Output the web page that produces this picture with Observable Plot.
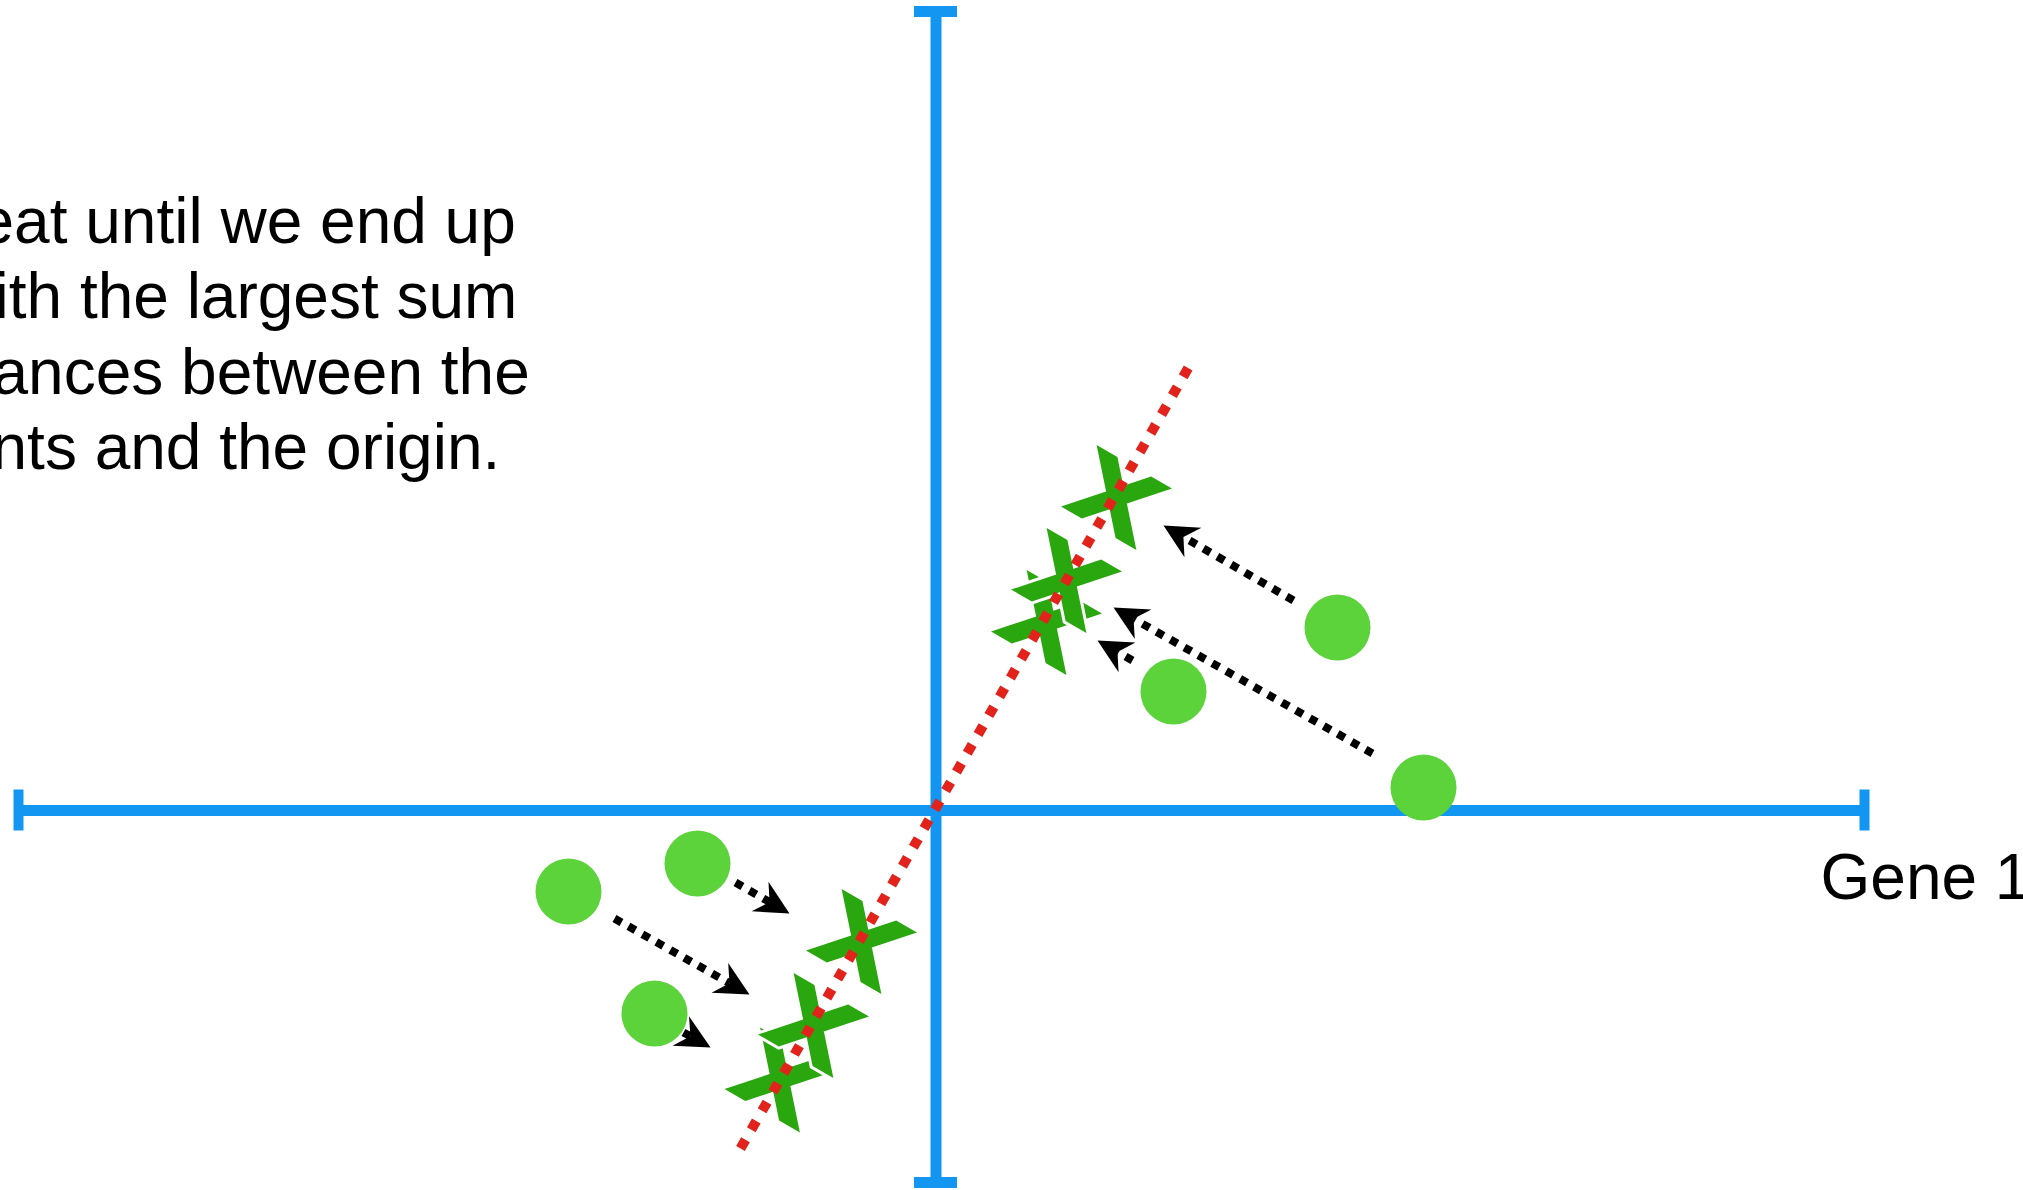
<!DOCTYPE html>
<html>
<head>
<meta charset="utf-8">
<script src="https://cdn.jsdelivr.net/npm/d3@7"></script>
<script src="https://cdn.jsdelivr.net/npm/@observablehq/plot@0.6"></script>
<style>
  html, body { margin: 0; padding: 0; background: #fff; overflow: hidden; }
  #chart svg { display: block; }
</style>
</head>
<body>
<div id="chart"></div>
<script>
// ---- data (Gene 1 / Gene 2 units, origin at axis crossing) ----
const noteLines = ["eat until we end up", "ith the largest sum", "ances between the", "nts and the origin."];
const axisLabel = "Gene 1";
const xAxisExtent = [-9.175, 9.285];
const yAxisExtent = [-3.72, 7.99];
const pointsX = [4.015, 2.375, 4.875, -3.675, -2.385, -2.815];
const pointsY = [1.83, 1.19, 0.23, -0.81, -0.53, -2.03];
const projectedX = [-1.56, -1.225, -0.745, 1.105, 1.305, 1.805];
const projectedY = [-2.695, -2.15, -1.31, 1.88, 2.30, 3.13];
const fitLineX = [-1.955, 2.565];
const fitLineY = [-3.38, 4.50];
const arrowTailX = [3.575, 4.365, 1.965, -2.005, -3.215, -2.525];
const arrowTailY = [2.10, 0.57, 1.50, -0.72, -1.08, -2.22];
const arrowTipX = [2.275, 1.775, 1.615, -1.465, -1.865, -2.255];
const arrowTipY = [2.85, 2.03, 1.70, -1.03, -1.84, -2.37];

// ---- layout of the cut-off note (pixels) ----
const noteIndent = [-22, -6, -8, -9];
const noteFirstBaseline = 242, noteLineStep = 75.5;

// ---- derived tables ----
const points = pointsX.map((x, i) => ({x, y: pointsY[i]}));
const projected = projectedX.map((x, i) => ({x, y: projectedY[i]}));
const fitLine = [{x1: fitLineX[0], y1: fitLineY[0], x2: fitLineX[1], y2: fitLineY[1]}];

const headLen = 0.34, headHalf = 0.17, headNotch = 0.23;
const shafts = [], heads = [];
arrowTailX.forEach((tx, i) => {
  const ty = arrowTailY[i], px = arrowTipX[i], py = arrowTipY[i];
  const len = Math.hypot(px - tx, py - ty);
  const ux = (px - tx) / len, uy = (py - ty) / len;
  const nx = -uy, ny = ux;
  shafts.push({x1: tx, y1: ty, x2: px - headNotch * ux, y2: py - headNotch * uy});
  heads.push(
    {id: i, x: px, y: py},
    {id: i, x: px - headLen * ux + headHalf * nx, y: py - headLen * uy + headHalf * ny},
    {id: i, x: px - headNotch * ux, y: py - headNotch * uy},
    {id: i, x: px - headLen * ux - headHalf * nx, y: py - headLen * uy - headHalf * ny}
  );
});

// rotated "X" glyph used for projected points
const xGlyph = {
  draw(context) {
    const a = 31.5, b = 35.6, h = 12, rot = 30 * Math.PI / 180;
    const c = Math.cos(rot), s = Math.sin(rot);
    const polys = [
      [[-a - h, -b], [-a + h, -b], [a + h, b], [a - h, b]],
      [[a - h, -b], [a + h, -b], [-a + h, b], [-a - h, b]]
    ];
    for (const poly of polys) {
      poly.forEach(([x, y], i) => {
        const X = x * c - y * s, Y = x * s + y * c;
        if (i) context.lineTo(X, Y); else context.moveTo(X, Y);
      });
      context.closePath();
    }
  }
};

const BLUE = "#1296f2", GREEN = "#5cd33b", DARKGREEN = "#2aa70f", RED = "#e2231c";
const FONT = "'Liberation Sans', Helvetica, Arial, sans-serif";

// each X: a white halo first, then the green glyph, so upper X's cut the ones below
const xMarks = projected.flatMap(p => [
  Plot.dot([p], {x: "x", y: "y", symbol: xGlyph, r: 10, fill: "white", stroke: "white", strokeWidth: 6, strokeLinejoin: "miter"}),
  Plot.dot([p], {x: "x", y: "y", symbol: xGlyph, r: 10, fill: DARKGREEN, stroke: "none"})
]);

const noteMarks = noteLines.map((line, i) =>
  Plot.text([line], {text: d => d, frameAnchor: "top-left", textAnchor: "start", lineAnchor: "bottom",
    fontSize: 64, fontFamily: FONT, fill: "black", dx: noteIndent[i], dy: noteFirstBaseline + i * noteLineStep})
);

const chart = Plot.plot({
  width: 2023,
  height: 1190,
  margin: 0,
  x: {domain: [-9.355, 10.875], axis: null},
  y: {domain: [-3.8, 8.1], axis: null},
  style: {background: "white"},
  marks: [
    // axes
    Plot.ruleY([0], {x1: xAxisExtent[0], x2: xAxisExtent[1], stroke: BLUE, strokeWidth: 11}),
    Plot.ruleX(xAxisExtent, {y1: -0.205, y2: 0.205, stroke: BLUE, strokeWidth: 10}),
    Plot.ruleX([0], {y1: yAxisExtent[0], y2: yAxisExtent[1], stroke: BLUE, strokeWidth: 11}),
    Plot.ruleY(yAxisExtent, {x1: -0.215, x2: 0.215, stroke: BLUE, strokeWidth: 11}),
    // projected points
    ...xMarks,
    // fitted line
    Plot.link(fitLine, {x1: "x1", y1: "y1", x2: "x2", y2: "y2", stroke: RED, strokeWidth: 10, strokeDasharray: "10,11.7", strokeLinecap: "butt"}),
    // arrows
    Plot.link(shafts, {x1: "x1", y1: "y1", x2: "x2", y2: "y2", stroke: "black", strokeWidth: 8, strokeDasharray: "8,8", strokeLinecap: "butt"}),
    Plot.line(heads, {x: "x", y: "y", z: "id", fill: "black", stroke: "none"}),
    // original points
    Plot.dot(points, {x: "x", y: "y", r: 33, fill: GREEN, stroke: "none"}),
    // texts
    ...noteMarks,
    Plot.text([axisLabel], {text: d => d, x: xAxisExtent[1], y: 0, textAnchor: "start", lineAnchor: "bottom", fontSize: 64, fontFamily: FONT, fill: "black", dx: -44, dy: 88})
  ]
});
document.getElementById("chart").appendChild(chart);
</script>
</body>
</html>
